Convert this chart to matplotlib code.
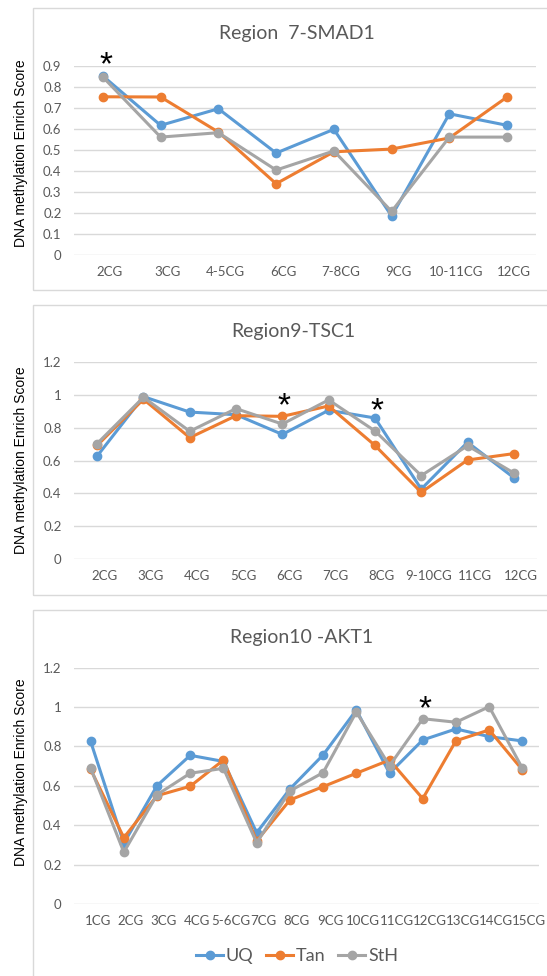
import matplotlib
matplotlib.use("Agg")
import matplotlib.pyplot as plt
import matplotlib.transforms as mtransforms
from matplotlib.patches import Rectangle
from matplotlib.lines import Line2D

# ---------------- data ----------------
series_names = ["UQ", "Tan", "StH"]
series_colors = ["#5B9BD5", "#ED7D31", "#A5A5A5"]

r7_title = "Region  7-SMAD1"
r7_cats = ["2CG", "3CG", "4-5CG", "6CG", "7-8CG", "9CG", "10-11CG", "12CG"]
r7_uq = [0.851, 0.616, 0.695, 0.484, 0.597, 0.184, 0.671, 0.616]
r7_tan = [0.752, 0.751, 0.584, 0.338, 0.490, 0.503, 0.556, 0.751]
r7_sth = [0.846, 0.560, 0.581, 0.403, 0.494, 0.206, 0.560, 0.560]
r7_star = ["2CG"]
r7_star_y = [0.935]

r9_title = "Region9-TSC1"
r9_cats = ["2CG", "3CG", "4CG", "5CG", "6CG", "7CG", "8CG", "9-10CG", "11CG", "12CG"]
r9_uq = [0.627, 0.989, 0.895, 0.879, 0.759, 0.906, 0.859, 0.426, 0.711, 0.495]
r9_tan = [0.692, 0.973, 0.739, 0.873, 0.869, 0.932, 0.692, 0.406, 0.603, 0.642]
r9_sth = [0.703, 0.985, 0.778, 0.916, 0.822, 0.969, 0.780, 0.508, 0.690, 0.524]
r9_star = ["6CG", "8CG"]
r9_star_y = [0.973, 0.944]

r10_title = "Region10 -AKT1"
r10_cats = ["1CG", "2CG", "3CG", "4CG", "5-6CG", "7CG", "8CG", "9CG", "10CG",
            "11CG", "12CG", "13CG", "14CG", "15CG"]
r10_uq = [0.826, 0.308, 0.601, 0.755, 0.724, 0.362, 0.584, 0.757, 0.985,
          0.664, 0.833, 0.889, 0.850, 0.828]
r10_tan = [0.684, 0.337, 0.550, 0.598, 0.731, 0.320, 0.528, 0.596, 0.664,
           0.731, 0.535, 0.829, 0.884, 0.681]
r10_sth = [0.691, 0.263, 0.555, 0.664, 0.689, 0.311, 0.574, 0.667, 0.975,
           0.702, 0.941, 0.923, 1.002, 0.689]
r10_star = ["12CG"]
r10_star_y = [1.024]

ylabel = "DNA methylation Enrich Score"

# ---------------- figure ----------------
W, H = 547, 976
fig = plt.figure(figsize=(W / 100, H / 100), dpi=100)
fig.patch.set_facecolor("white")

TXT = "#595959"
GRID = "#D9D9D9"
BOX = "#D9D9D9"
TICKFONT = "Lato"

def fx(px):
    return px / W

def fy(py):
    return 1 - py / H

panels = [
    dict(title=r7_title, cats=r7_cats, data=[r7_uq, r7_tan, r7_sth],
         star=r7_star, star_y=r7_star_y, star_dx=0.05,
         ymax=0.9, ystep=0.1, box=(33, 8, 600, 290),
         ax=(74, 65.7, 536, 254.7), title_xy=(297, 34), ylab_y=152.7),
    dict(title=r9_title, cats=r9_cats, data=[r9_uq, r9_tan, r9_sth],
         star=r9_star, star_y=r9_star_y, star_dx=0.04,
         ymax=1.2, ystep=0.2, box=(33, 305, 600, 595),
         ax=(74, 362, 537, 559), title_xy=(293, 331), ylab_y=460.5),
    dict(title=r10_title, cats=r10_cats, data=[r10_uq, r10_tan, r10_sth],
         star=r10_star, star_y=r10_star_y, star_dx=0.08,
         ymax=1.2, ystep=0.2, box=(33, 610, 600, 1000),
         ax=(74, 667.7, 539, 904), title_xy=(302, 637), ylab_y=772.5),
]

for p in panels:
    bx0, by0, bx1, by1 = p["box"]
    fig.patches.append(Rectangle((fx(bx0), fy(by1)), fx(bx1 - bx0), (by1 - by0) / H,
                                 transform=fig.transFigure, facecolor="none",
                                 edgecolor=BOX, linewidth=1.0, zorder=-1))
    x0, y0, x1, y1 = p["ax"]
    ax = fig.add_axes([fx(x0), fy(y1), fx(x1 - x0), (y1 - y0) / H])
    ax.set_facecolor("none")
    cats = p["cats"]
    xs = list(range(len(cats)))
    for name, col, vals in zip(series_names, series_colors, p["data"]):
        ax.plot(xs, vals, color=col, linewidth=2.2, marker="o", markersize=6,
                markeredgecolor=col, markerfacecolor=col, label=name,
                solid_joinstyle="round", zorder=3, clip_on=False)
    ax.set_xlim(-0.5, len(cats) - 0.5)
    ax.set_ylim(0, p["ymax"])
    n = int(round(p["ymax"] / p["ystep"]))
    yt = [round(i * p["ystep"], 2) for i in range(n + 1)]
    ax.set_yticks(yt)
    ax.set_yticklabels([("%g" % v) for v in yt])
    ax.set_xticks(xs)
    ax.set_xticklabels(cats)
    for s in ax.spines.values():
        s.set_visible(False)
    ax.grid(axis="y", color=GRID, linewidth=1.0)
    ax.set_axisbelow(True)
    ax.tick_params(axis="both", length=0, colors=TXT, labelsize=9.5)
    ax.tick_params(axis="y", pad=9)
    ax.tick_params(axis="x", pad=8)
    offset = mtransforms.ScaledTranslation(0.07, 0, fig.dpi_scale_trans)
    for lab in ax.get_xticklabels():
        lab.set_fontfamily(TICKFONT)
        lab.set_transform(lab.get_transform() + offset)
    for lab in ax.get_yticklabels():
        lab.set_fontfamily(TICKFONT)
    star_tr = ax.transData + mtransforms.ScaledTranslation(0, -0.16, fig.dpi_scale_trans)
    for c, sy in zip(p["star"], p["star_y"]):
        ax.text(cats.index(c) + p["star_dx"], sy, "*", ha="center",
                va="baseline", fontsize=24, color="black", family="Liberation Sans",
                zorder=5, clip_on=False, transform=star_tr)
    tx, ty = p["title_xy"]
    fig.text(fx(tx), fy(ty), p["title"], ha="center", va="center", fontsize=14,
             color=TXT, family=TICKFONT)
    fig.text(fx(21), fy(p["ylab_y"]), ylabel, rotation=90, ha="center", va="center",
             fontsize=10, color="black", family="Liberation Sans")

handles = [Line2D([0], [0], color=c, linewidth=2.2, marker="o", markersize=6)
           for c in series_colors]
leg = fig.legend(handles, series_names, loc="center", bbox_to_anchor=(fx(297), fy(956)),
                 ncol=3, frameon=False, handlelength=1.5, handletextpad=0.15,
                 columnspacing=0.7, prop={"family": TICKFONT, "size": 13})
for t in leg.get_texts():
    t.set_color(TXT)

fig.savefig("out.png", dpi=100, facecolor="white")
